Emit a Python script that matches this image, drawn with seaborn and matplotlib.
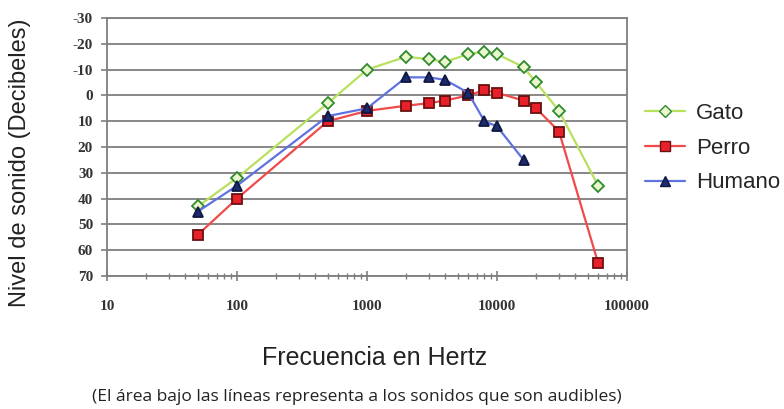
import pandas as pd
import matplotlib.pyplot as plt
import seaborn as sns
from matplotlib.lines import Line2D

# Data
freq_gato = [50, 100, 500, 1000, 2000, 3000, 4000, 6000, 8000, 10000, 16000, 20000, 30000, 60000]
gato = [43, 32, 3, -10, -15, -14, -13, -16, -17, -16, -11, -5, 6, 35]

freq_perro = [50, 100, 500, 1000, 2000, 3000, 4000, 6000, 8000, 10000, 16000, 20000, 30000, 60000]
perro = [54, 40, 10, 6, 4, 3, 2, 0, -2, -1, 2, 5, 14, 65]

freq_humano = [50, 100, 500, 1000, 2000, 3000, 4000, 6000, 8000, 10000, 16000]
humano = [45, 35, 8, 5, -7, -7, -6, -1, 10, 12, 25]

y_ticks = [-30, -20, -10, 0, 10, 20, 30, 40, 50, 60, 70]
x_ticks = [10, 100, 1000, 10000, 100000]

sns.set_style("white")
plt.rcParams["font.family"] = ["Liberation Sans", "DejaVu Sans"]

W, H = 784, 409
fig = plt.figure(figsize=(W / 100, H / 100), dpi=100)
ax = fig.add_axes([107 / W, 1 - 276 / H, 520 / W, 258 / H])

series = [
    ("Gato", freq_gato, gato, "#b8e05c", "D", "#eaf7cc", "#2f8a2f", 6),
    ("Perro", freq_perro, perro, "#f04a4a", "s", "#e8202a", "#6a1010", 7),
    ("Humano", freq_humano, humano, "#5f73e0", "^", "#1c2a6e", "#101840", 7),
]

handles = []
for name, xs, ys, lc, mk, mfc, mec, ms in series:
    df = pd.DataFrame({"freq": xs, "db": ys})
    sns.lineplot(data=df, x="freq", y="db", ax=ax, color=lc, marker=mk,
                 markerfacecolor=mfc, markeredgecolor=mec, markersize=ms,
                 markeredgewidth=1.3, linewidth=1.6, legend=False)
    handles.append(Line2D([0], [0], color=lc, marker=mk, markerfacecolor=mfc,
                          markeredgecolor=mec, markersize=ms, linewidth=1.6,
                          label=name))

ax.set_xscale("log")
ax.set_xlim(10, 100000)
ax.set_ylim(70, -30)
ax.set_yticks(y_ticks)
ax.set_xticks(x_ticks)
ax.set_xticklabels([str(v) for v in x_ticks])
ax.set_yticklabels([str(v) for v in y_ticks])

for lab in ax.get_xticklabels() + ax.get_yticklabels():
    lab.set_fontfamily("Liberation Serif")
    lab.set_fontweight("bold")
    lab.set_fontsize(11)
    lab.set_color("#333333")

ax.grid(axis="y", color="#7e7e7e", linewidth=1.3)
ax.grid(axis="x", visible=False)
for sp in ax.spines.values():
    sp.set_color("#7e7e7e")
    sp.set_linewidth(1.3)

ax.tick_params(axis="y", which="both", left=True, length=4, width=1.2,
               color="#7e7e7e", pad=6)
ax.tick_params(axis="x", which="major", bottom=True, direction="inout", length=7,
               width=1.2, color="#7e7e7e", pad=14)
ax.tick_params(axis="x", which="minor", bottom=True, direction="inout", length=4,
               width=1, color="#7e7e7e")
ax.set_xlabel("")
ax.set_ylabel("")

fig.text(375 / W, 1 - 358 / H, "Frecuencia en Hertz", fontsize=18,
         ha="center", va="center", color="#222222")
fig.text(20 / W, 1 - 163 / H, "Nivel de sonido (Decibeles)", fontsize=17,
         ha="center", va="center", rotation=90, color="#222222")

fig.legend(handles=handles, loc="center left", bbox_to_anchor=(634 / W, 1 - 148 / H),
           frameon=False, fontsize=16, handlelength=1.8, handletextpad=0.5,
           labelspacing=0.62, borderpad=0)

fig.text(357 / W, 1 - 397 / H,
         "(El área bajo las líneas representa a los sonidos que son audibles)",
         fontsize=12.5, family="Open Sans", ha="center", va="center", color="#222222")

fig.savefig("out.png", dpi=100)
